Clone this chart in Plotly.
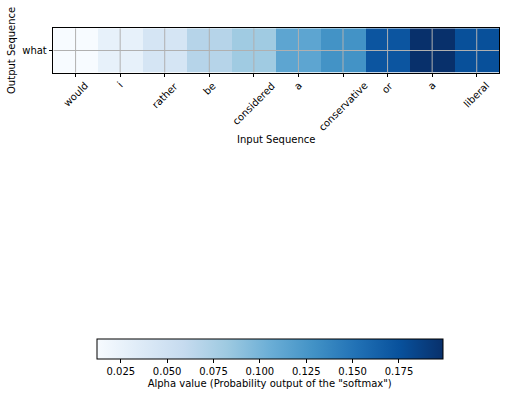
import plotly.graph_objects as go

W, H = 506, 394

input_tokens = ["would", "i", "rather", "be", "considered", "a", "conservative", "or", "a", "liberal"]
output_tokens = ["what"]
alpha_values = [0.012, 0.027, 0.044, 0.068, 0.081, 0.113, 0.128, 0.172, 0.1986, 0.176]
cbar_ticks = [0.025, 0.050, 0.075, 0.100, 0.125, 0.150, 0.175]

blues = [
    [0.0, "#f7fbff"], [0.125, "#deebf7"], [0.25, "#c6dbef"], [0.375, "#9ecae1"],
    [0.5, "#6baed6"], [0.625, "#4292c6"], [0.75, "#2171b5"], [0.875, "#08519c"],
    [1.0, "#08306b"],
]

FONT = "DejaVu Sans"

# pixel layout helpers
px_l, px_r, px_t, px_b = 53.3, 499.0, 28.3, 72.7

xs = list(range(len(input_tokens)))

fig = go.Figure()
fig.add_trace(go.Heatmap(
    z=[alpha_values],
    x=xs,
    y=[0],
    colorscale=blues,
    xgap=0, ygap=0,
    colorbar=dict(
        orientation="h",
        x=(96.7 + 442.7) / 2 / W,
        xanchor="center",
        y=1 - 339.3 / H,
        yanchor="top",
        len=(442.7 - 96.7) / W,
        lenmode="fraction",
        thickness=20,
        thicknessmode="pixels",
        xpad=0, ypad=0,
        outlinecolor="black",
        outlinewidth=1,
        tickmode="array",
        tickvals=cbar_ticks,
        ticktext=[f"{v:.3f}" for v in cbar_ticks],
        ticks="outside",
        ticklen=3.5,
        tickcolor="black",
        tickfont=dict(family=FONT, size=10, color="black"),
        title=dict(text='Alpha value (Probability output of the "softmax")',
                   side="bottom",
                   font=dict(family=FONT, size=10, color="black")),
    ),
    hoverinfo="skip",
))

fig.update_xaxes(
    domain=[px_l / W, px_r / W],
    range=[-0.5, len(input_tokens) - 0.5],
    tickmode="array", tickvals=xs, ticktext=[""] * len(xs),
    ticks="outside", ticklen=3.5, tickcolor="black",
    showgrid=False, zeroline=False,
    showline=True, linecolor="black", linewidth=1, mirror=True,
    automargin=False, fixedrange=True,
)
fig.update_yaxes(
    domain=[1 - px_b / H, 1 - px_t / H],
    range=[-0.5, 0.5],
    tickmode="array", tickvals=[0], ticktext=output_tokens,
    ticks="outside", ticklen=3.5, tickcolor="black",
    tickfont=dict(family=FONT, size=10, color="black"),
    showgrid=False, zeroline=False,
    showline=True, linecolor="black", linewidth=1, mirror=True,
    automargin=False, fixedrange=True,
)

# grid lines drawn above the image, as matplotlib does
for xv in xs:
    fig.add_shape(type="line", xref="x", yref="y", x0=xv, x1=xv, y0=-0.5, y1=0.5,
                  line=dict(color="#b0b0b0", width=1), layer="above")
fig.add_shape(type="line", xref="x", yref="y", x0=-0.5, x1=len(xs) - 0.5, y0=0, y1=0,
              line=dict(color="#b0b0b0", width=1), layer="above")

# rotated x tick labels (centered on ticks, like matplotlib rotation=45)
for xv, lab in zip(xs, input_tokens):
    fig.add_annotation(
        x=xv, xref="x", y=1 - 78.5 / H, yref="paper",
        text=lab, textangle=-45, showarrow=False,
        xanchor="center", yanchor="top", borderpad=0,
        font=dict(family=FONT, size=10, color="black"),
    )

fig.add_annotation(
    x=(px_l + px_r) / 2 / W, xref="paper", y=1 - 140 / H, yref="paper",
    text="Input Sequence", showarrow=False, xanchor="center", yanchor="middle",
    font=dict(family=FONT, size=10, color="black"),
)
fig.add_annotation(
    x=11 / W, xref="paper", y=1 - 51 / H, yref="paper",
    text="Output Sequence", textangle=-90, showarrow=False,
    xanchor="center", yanchor="middle",
    font=dict(family=FONT, size=10, color="black"),
)

fig.update_layout(
    width=W, height=H,
    margin=dict(l=0, r=0, t=0, b=0, pad=0, autoexpand=False),
    paper_bgcolor="white", plot_bgcolor="white",
    font=dict(family=FONT, size=10, color="black"),
    showlegend=False,
)

fig.write_html("out.html", config={"displayModeBar": False, "staticPlot": True},
               post_script="document.body.style.margin='0';")
